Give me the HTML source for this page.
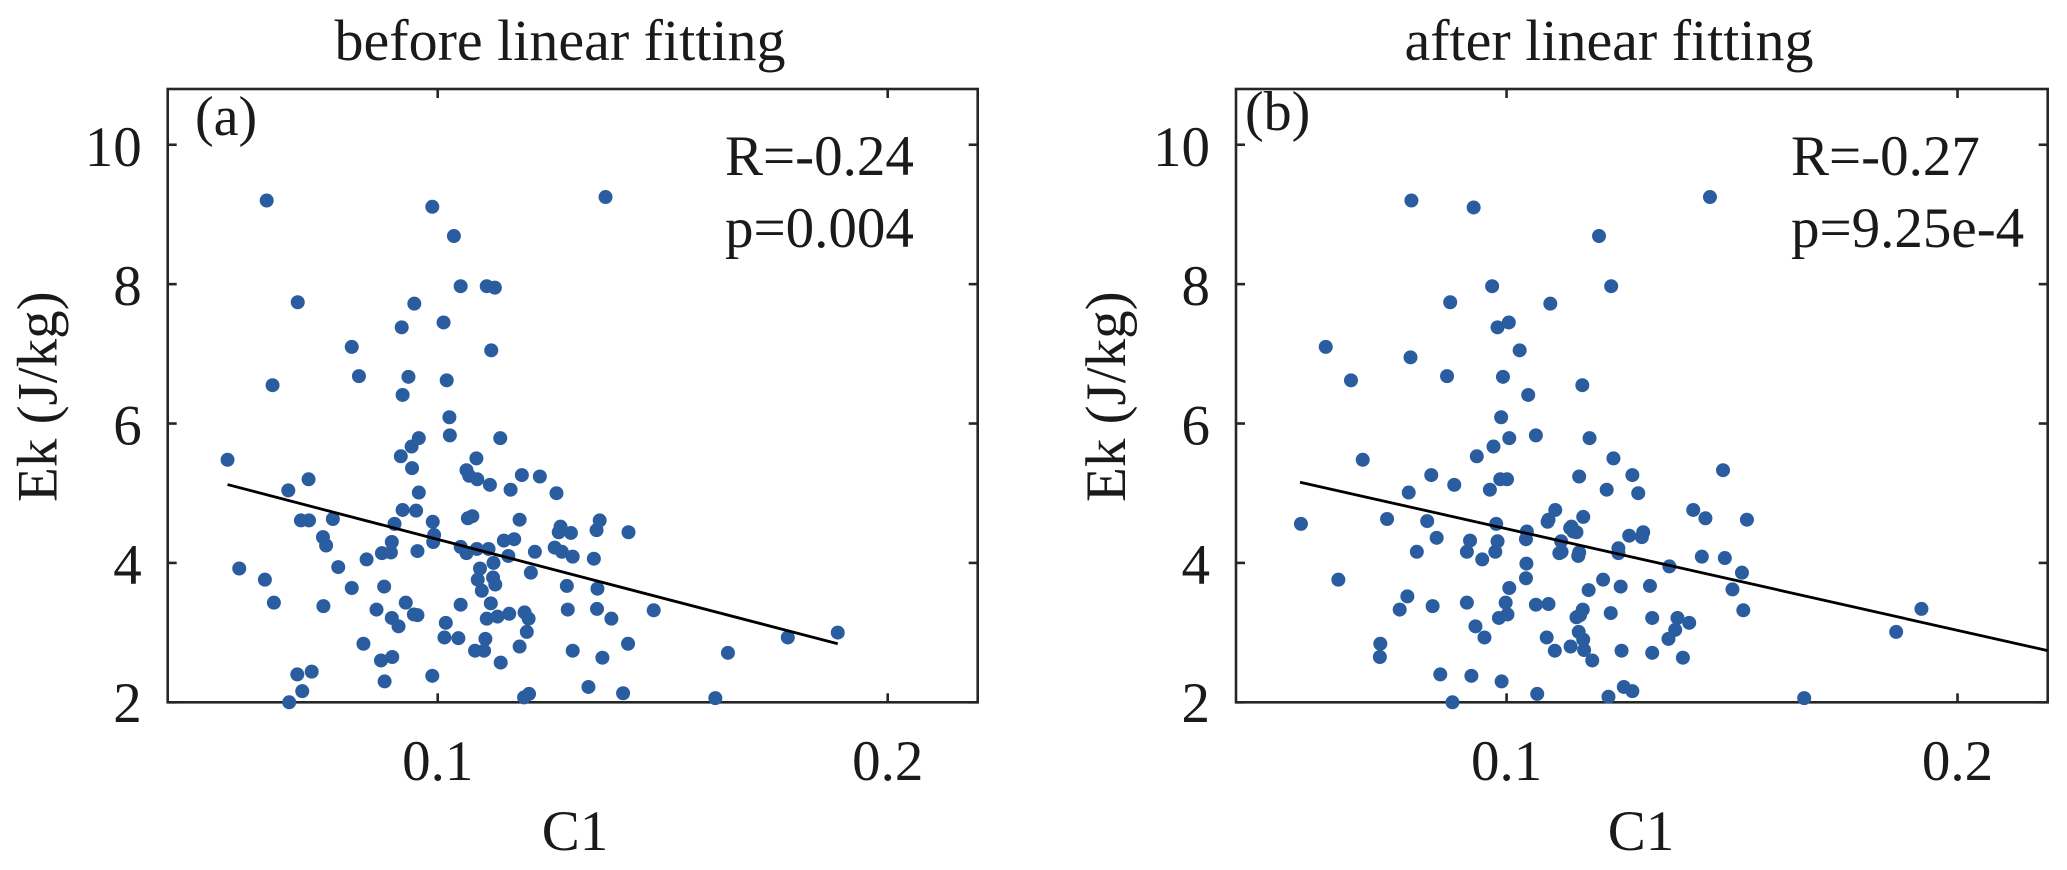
<!DOCTYPE html>
<html lang="en">
<head>
<meta charset="utf-8">
<title>Ek vs C1 before and after linear fitting</title>
<style>
  html, body { margin: 0; padding: 0; background: #fff; }
  #chart { display: block; width: 2067px; height: 870px; background: #fff; }
  text { font-family: "Liberation Serif", serif; fill: #1a1a1a; }
</style>
</head>
<body>
<svg id="chart" xmlns="http://www.w3.org/2000/svg" width="2067" height="870" viewBox="0 0 2067 870"></svg>
<script>
const xTicks = [0.1, 0.2];
const xTickLabels = ["0.1", "0.2"];
const yTicks = [2, 4, 6, 8, 10];
const yTickLabels = ["2", "4", "6", "8", "10"];
const xDomain = [0.04, 0.22];
const yDomain = [2, 10.8];

const c1Before = [
  .062,.0988,.1373,.1036,.1051,.1109,.1127,.0689,.0948,.092,
  .1013,.0809,.1119,.0825,.0935,.102,.0633,.0922,.1026,.1027,
  .0958,.1139,.0942,.0918,.1086,.0533,.0943,.1064,.107,.1187,
  .1227,.0713,.1088,.1116,.0668,.1162,.0958,.1264,.0922,.0952,
  .1077,.1067,.1182,.0989,.0904,.0696,.0714,.0767,.136,.1273,
  .1353,.1269,.1296,.1424,.0992,.0745,.117,.1147,.0898,.099,
  .0752,.1051,.1087,.1113,.126,.1216,.1276,.0955,.0876,.0896,
  .1064,.0842,.1157,.13,.1347,.1124,.0779,.0559,.1094,.1207,
  .0616,.1089,.1123,.1128,.1287,.0881,.0809,.1098,.1355,.0636,
  .0746,.0929,.1118,.1051,.1354,.0864,.1289,.148,.1193,.1159,
  .0947,.0955,.1133,.0898,.1109,.1202,.1386,.1018,.0913,.1198,
  .1015,.1046,.1106,.0835,.1423,.1182,.1083,.1103,.13,.1645,
  .0899,.1366,.0874,.114,.072,.0688,.0988,.0882,.1335,.0699,
  .1412,.1203,.1192,.1617,.067,.1778,.1889
];
const ekBefore = [
  9.2,9.11,9.25,8.69,7.97,7.97,7.95,7.74,7.72,7.38,
  7.45,7.10,7.05,6.68,6.67,6.62,6.55,6.41,6.09,5.83,
  5.79,5.79,5.67,5.53,5.50,5.48,5.36,5.33,5.25,5.26,
  5.24,5.20,5.20,5.12,5.04,5.05,5.01,5.0,4.76,4.75,
  4.67,4.64,4.62,4.59,4.56,4.61,4.61,4.63,4.61,4.52,
  4.47,4.44,4.43,4.44,4.40,4.37,4.34,4.32,4.30,4.30,
  4.25,4.23,4.20,4.20,4.22,4.16,4.16,4.17,4.14,4.15,
  4.14,4.05,4.10,4.09,4.06,4.0,3.94,3.92,3.92,3.86,
  3.76,3.76,3.79,3.69,3.67,3.66,3.64,3.60,3.63,3.43,
  3.38,3.43,3.42,3.40,3.34,3.33,3.33,3.32,3.29,3.27,
  3.26,3.25,3.23,3.21,3.20,3.20,3.20,3.14,3.09,3.01,
  2.93,2.92,2.91,2.84,2.84,2.80,2.74,2.74,2.74,2.71,
  2.65,2.64,2.60,2.57,2.44,2.40,2.38,2.30,2.22,2.16,
  2.13,2.12,2.07,2.06,2.0,2.93,3.0
];
const fitBeforeX = [0.0533, 0.1889];
const fitBeforeY = [5.124, 2.84];

const c1After = [
  .0789,.0927,.1451,.1205,.0968,.1232,.0875,.1097,.098,.1005,
  .1029,.0599,.0787,.0655,.0868,.0992,.1168,.1048,.0988,.1006,
  .1065,.1184,.0971,.0934,.1237,.0681,.148,.0833,.1161,.1279,
  .0986,.1001,.0884,.1222,.0963,.0783,.1292,.1414,.1108,.117,
  .1441,.0735,.1533,.0544,.0824,.0977,.1091,.1093,.1144,.1141,
  .1148,.1155,.1045,.1303,.1272,.13,.1043,.0845,.0919,.098,
  .1121,.1248,.0801,.0912,.0975,.1248,.1122,.1117,.1161,.1159,
  .1433,.1484,.0946,.1044,.1361,.1522,.1043,.0627,.1214,.1253,
  .1318,.1006,.1501,.1182,.078,.0912,.0998,.0836,.1065,.1093,
  .0763,.1169,.1525,.1231,.1002,.1163,.1155,.0983,.1323,.1379,
  .1405,.0931,.1374,.116,.1359,.117,.0951,.1089,.072,.1142,
  .1107,.1172,.1255,.1323,.0719,.1391,.119,.0853,.0922,.0989,
  .126,.1279,.1068,.1226,.166,.088,.1864,.192
];
const ekAfter = [
  9.2,9.1,9.25,8.69,7.97,7.97,7.74,7.72,7.38,7.45,
  7.05,7.10,6.95,6.62,6.68,6.67,6.55,6.41,6.09,5.79,
  5.83,5.79,5.67,5.53,5.50,5.48,5.33,5.26,5.24,5.26,
  5.20,5.20,5.12,5.05,5.05,5.01,5.0,4.76,4.76,4.66,
  4.64,4.63,4.62,4.56,4.60,4.56,4.59,4.62,4.52,4.50,
  4.45,4.44,4.45,4.44,4.39,4.37,4.34,4.36,4.32,4.31,
  4.31,4.21,4.16,4.16,4.16,4.14,4.16,4.14,4.15,4.10,
  4.09,4.07,4.05,3.99,3.95,3.86,3.78,3.76,3.76,3.66,
  3.67,3.64,3.62,3.61,3.52,3.43,3.43,3.38,3.40,3.41,
  3.33,3.33,3.32,3.28,3.26,3.25,3.22,3.21,3.21,3.21,
  3.14,3.09,3.04,3.01,2.91,2.90,2.93,2.93,2.84,2.80,
  2.74,2.75,2.74,2.71,2.65,2.64,2.60,2.40,2.38,2.30,
  2.22,2.16,2.12,2.08,2.06,2.0,3.01,3.34
];
const fitAfterX = [0.0542, 0.22];
const fitAfterY = [5.158, 2.741];

const svg = document.getElementById('chart');
const NS = 'http://www.w3.org/2000/svg';

function make(parent, tag, attrs, content) {
  const el = document.createElementNS(NS, tag);
  for (const k in attrs) el.setAttribute(k, attrs[k]);
  if (content !== undefined) el.textContent = content;
  parent.appendChild(el);
  return el;
}

function drawPanel(cfg) {
  const left = cfg.left, right = cfg.right, top = 89, bottom = 702.3;
  const xScale = v => left + (v - xDomain[0]) / (xDomain[1] - xDomain[0]) * (right - left);
  const yScale = v => bottom - (v - yDomain[0]) / (yDomain[1] - yDomain[0]) * (bottom - top);

  const g = make(svg, 'g', {});
  
  

  const frame = make(g, 'rect', {x: left, y: top, width: right - left, height: bottom - top, fill: 'none', stroke: '#262626', 'stroke-width': 2.6});
  
  

  xTicks.forEach((t, i) => {
    const x = xScale(t);
    const tickB = make(g, 'line', {x1: x, x2: x, y1: bottom, y2: bottom - 9, stroke: '#262626', 'stroke-width': 2.6});
    
    
    const tickT = make(g, 'line', {x1: x, x2: x, y1: top, y2: top + 9, stroke: '#262626', 'stroke-width': 2.6});
    
    
    const label = make(g, 'text', {x: x, y: 780, 'font-size': 57, 'text-anchor': 'middle'}, xTickLabels[i]);
    
    
  });

  yTicks.forEach((t, i) => {
    const y = yScale(t);
    const tickL = make(g, 'line', {x1: left, x2: left + 9, y1: y, y2: y, stroke: '#262626', 'stroke-width': 2.6});
    
    
    const tickR = make(g, 'line', {x1: right, x2: right - 9, y1: y, y2: y, stroke: '#262626', 'stroke-width': 2.6});
    
    
    const label = make(g, 'text', {x: left - 26, y: Math.min(y + 21, 722), 'font-size': 57, 'text-anchor': 'end'}, yTickLabels[i]);
    
    
  });

  cfg.xs.forEach((v, i) => {
    const dot = make(g, 'circle', {cx: xScale(v), cy: yScale(cfg.ys[i]), r: 7, fill: '#2a5ca0'});
    
    
  });

  const fit = make(g, 'line', {
    x1: xScale(cfg.fitX[0]), y1: yScale(cfg.fitY[0]),
    x2: xScale(cfg.fitX[1]), y2: yScale(cfg.fitY[1]),
    stroke: '#000', 'stroke-width': 2.8
  });
  
  

  const title = make(g, 'text', {x: cfg.titleX, y: 60, 'font-size': 58, 'text-anchor': 'middle'}, cfg.title);
  
  

  const tag = make(g, 'text', {x: cfg.tagX, y: cfg.tagY, 'font-size': 56}, cfg.tag);
  
  

  const rText = make(g, 'text', {x: cfg.statX, y: 175, 'font-size': 57}, cfg.r);
  
  

  const pText = make(g, 'text', {x: cfg.statX, y: 247, 'font-size': 57}, cfg.p);
  
  

  const xTitle = make(g, 'text', {x: cfg.xLabelX, y: 850, 'font-size': 57, 'text-anchor': 'middle'}, 'C1');
  
  

  const yTitle = make(g, 'text', {x: 0, y: 0, 'font-size': 57, transform: 'translate(' + (left - 111) + ' 502) rotate(-90)'}, 'Ek (J/kg)');
  
  
}

drawPanel({
  name: 'panel-before-fitting', left: 167.7, right: 977.7,
  xs: c1Before, ys: ekBefore, fitX: fitBeforeX, fitY: fitBeforeY,
  title: 'before linear fitting', titleX: 560, tag: '(a)', tagX: 195, tagY: 135,
  r: 'R=-0.24', p: 'p=0.004', statX: 725, xLabelX: 575
});
drawPanel({
  name: 'panel-after-fitting', left: 1236, right: 2047.7,
  xs: c1After, ys: ekAfter, fitX: fitAfterX, fitY: fitAfterY,
  title: 'after linear fitting', titleX: 1609, tag: '(b)', tagX: 1245, tagY: 130,
  r: 'R=-0.27', p: 'p=9.25e-4', statX: 1791, xLabelX: 1641
});
</script>
</body>
</html>
